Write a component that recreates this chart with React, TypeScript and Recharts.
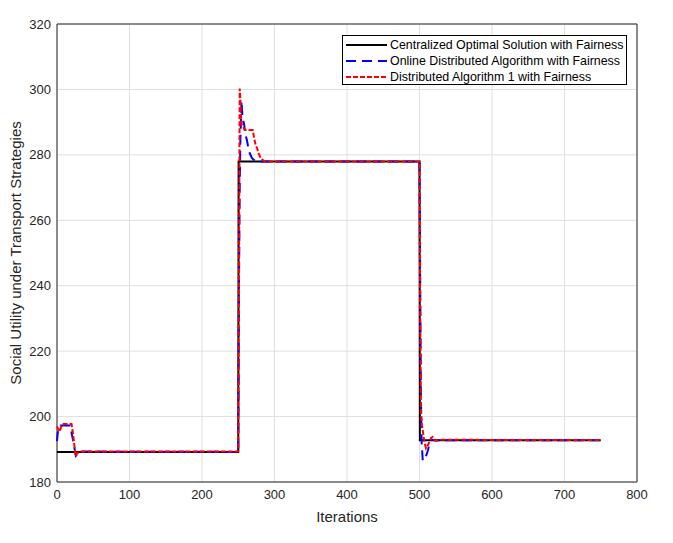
import { LineChart, Line, XAxis, YAxis, CartesianGrid, ReferenceArea } from 'recharts';

type Pt = { x: number; y: number };
const toPts = (rows: number[][]): Pt[] => rows.map(([x, y]) => ({ x, y }));

const xTicks = [0, 100, 200, 300, 400, 500, 600, 700, 800];
const yTicks = [180, 200, 220, 240, 260, 280, 300, 320];

// Centralized optimal solution (piecewise constant)
const centralized = [
  [0, 189.2], [250, 189.2], [250.5, 278], [500, 278], [500.5, 192.8], [750, 192.8],
];

// Online distributed algorithm
const online = [
  [0, 192.5], [1, 195], [3, 196.5], [5, 197.3], [18, 197.3], [22, 193], [26, 188],
  [28, 188.5], [32, 189.3], [250, 189.2], [251, 240], [252, 270], [253, 285],
  [254.5, 296.5], [256, 291], [258, 289.5], [260, 286], [262, 284.5], [264, 282],
  [266, 280.4], [269, 279], [273, 278.2], [280, 278], [500, 278], [501, 240],
  [502, 205], [503, 192], [504.5, 186.5], [506, 187], [508, 187.5], [510, 188.5],
  [512, 190], [514, 192], [516, 193], [520, 192.8], [750, 192.8],
];

// Distributed algorithm 1
const distributed1 = [
  [0, 197], [2, 196], [4, 195.4], [6, 197.3], [9, 197.7], [20, 197.7], [22, 195],
  [24, 191], [26, 187.8], [28, 188.8], [32, 189.3], [250, 189.3], [251, 240],
  [252, 300.3], [253, 297], [254, 291], [255, 289], [257, 288.5], [259, 287.6],
  [270, 287.6], [272, 285], [274, 283], [276, 282], [278, 280.5], [281, 279],
  [285, 278.2], [290, 278], [500, 278], [501, 230], [502, 203], [503, 198],
  [505, 195], [507, 192], [509, 190.3], [511, 191], [514, 192.5], [516, 193.5],
  [518, 193.8], [520, 193], [523, 192.6], [530, 192.9], [750, 192.8],
];

const FONT = '"Liberation Sans", Arial, sans-serif';

const legendItems = [
  { name: 'Centralized Optimal Solution with Fairness', color: '#000000', dash: '' },
  { name: 'Online Distributed Algorithm with Fairness', color: '#0000ff', dash: '10 6' },
  { name: 'Distributed Algorithm 1 with Fairness', color: '#ff0000', dash: '5 2' },
];

const LegendBox = () => (
  <div style={{ position: 'absolute', left: 342, top: 35, border: '1px solid #000', background: '#fff', width: 283, height: 48, fontFamily: FONT, fontSize: 12.4, color: '#000' }}>
    {legendItems.map((it, i) => (
      <div key={it.name} style={{ display: 'flex', alignItems: 'center', height: 16, marginTop: i === 0 ? 1 : 0 }}>
        <svg width={44} height={16} style={{ marginLeft: 3 }}>
          <line x1={0} y1={8} x2={41} y2={8} stroke={it.color} strokeWidth={2} strokeDasharray={it.dash} />
        </svg>
        <span style={{ whiteSpace: 'nowrap' }}>{it.name}</span>
      </div>
    ))}
  </div>
);

export default function App() {
  return (
    <div style={{ position: 'absolute', left: 0, top: 0, width: 673, height: 543, background: '#fff' }}>
      <LineChart width={673} height={543} margin={{ top: 24, right: 36, bottom: 31, left: 17 }}>
        <CartesianGrid stroke="#dfdfdf" />
        <XAxis
          type="number"
          dataKey="x"
          domain={[0, 800]}
          ticks={xTicks}
          height={30}
          axisLine={false}
          tickLine={false}
          tickSize={0}
          tickMargin={8}
          tick={{ fill: '#262626', fontSize: 13, fontFamily: FONT }}
          label={() => (
            <text x={347} y={522} textAnchor="middle" fill="#262626" fontSize={15} fontFamily={FONT}>Iterations</text>
          )}
        />
        <YAxis
          type="number"
          dataKey="y"
          domain={[180, 320]}
          ticks={yTicks}
          width={40}
          axisLine={false}
          tickLine={false}
          tickSize={0}
          tickMargin={6}
          tick={{ fill: '#262626', fontSize: 13, fontFamily: FONT }}
          label={() => (
            <text x={21} y={253} transform="rotate(-90 21 253)" textAnchor="middle" fill="#262626" fontSize={15} fontFamily={FONT}>
              Social Utility under Transport Strategies
            </text>
          )}
        />
        <ReferenceArea x1={0} x2={800} y1={180} y2={320} fill="none" stroke="#262626" strokeWidth={1} fillOpacity={0} />
        <Line data={toPts(centralized)} dataKey="y" type="linear" stroke="#000000" strokeWidth={2} dot={false} isAnimationActive={false} />
        <Line data={toPts(online)} dataKey="y" type="linear" stroke="#0000ff" strokeWidth={2} strokeDasharray="10 6" dot={false} isAnimationActive={false} />
        <Line data={toPts(distributed1)} dataKey="y" type="linear" stroke="#ff0000" strokeWidth={2} strokeDasharray="5 2" dot={false} isAnimationActive={false} />
      </LineChart>
      <LegendBox />
    </div>
  );
}
